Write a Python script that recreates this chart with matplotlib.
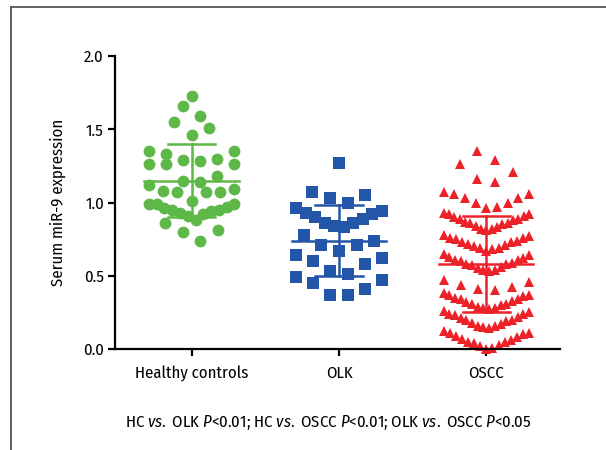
import numpy as np
import matplotlib
matplotlib.use("Agg")
import matplotlib.pyplot as plt
from matplotlib.lines import Line2D

plt.rcParams['font.family'] = ['Fira Sans Condensed', 'DejaVu Sans']
plt.rcParams['mathtext.fontset'] = 'custom'
plt.rcParams['mathtext.rm'] = 'Fira Sans Condensed'
plt.rcParams['mathtext.it'] = 'Fira Sans Condensed:italic'

# data
groups = ["Healthy controls", "OLK", "OSCC"]

hc = [1.73, 1.66, 1.59, 1.55, 1.51, 1.46, 1.35, 1.35, 1.33, 1.30, 1.29, 1.28,
      1.26, 1.26, 1.26, 1.18, 1.15, 1.14, 1.12, 1.09, 1.07, 1.08, 1.07, 1.07,
      1.01, 0.99, 0.97, 0.95, 0.93, 0.91, 0.99, 0.95, 0.94, 0.99, 0.96, 0.92,
      0.88, 0.86, 0.81, 0.80, 0.74]

olk = [1.27, 1.07, 1.05, 1.03, 1.00, 0.96, 0.94, 0.93, 0.92, 0.90, 0.89, 0.86,
       0.86, 0.83, 0.84, 0.78, 0.74, 0.71, 0.71, 0.67, 0.64, 0.62, 0.60, 0.58,
       0.53, 0.51, 0.47, 0.49, 0.45, 0.41, 0.37, 0.37]

oscc = [0.00, 0.01, 0.02, 0.03, 0.04, 0.05, 0.05, 0.06, 0.07, 0.08, 0.09, 0.10,
        0.11, 0.11, 0.12,
        0.14, 0.15, 0.16, 0.16, 0.17, 0.18, 0.19, 0.20, 0.20, 0.21, 0.22, 0.23,
        0.24, 0.24, 0.25, 0.26,
        0.27, 0.28, 0.28, 0.29, 0.30, 0.31, 0.31, 0.32, 0.33, 0.34, 0.34, 0.35,
        0.36, 0.37, 0.37, 0.38,
        0.40, 0.41, 0.42, 0.44, 0.46, 0.47,
        0.53, 0.54, 0.54, 0.55, 0.56, 0.57, 0.58, 0.58, 0.59, 0.60, 0.61, 0.61,
        0.62, 0.63, 0.64, 0.65,
        0.67, 0.68, 0.69, 0.69, 0.70, 0.71, 0.72, 0.73, 0.73, 0.74, 0.75, 0.76,
        0.76, 0.77, 0.78,
        0.81, 0.82, 0.82, 0.83, 0.84, 0.85, 0.86, 0.86, 0.87, 0.88, 0.89, 0.89,
        0.90, 0.91, 0.92, 0.92, 0.93,
        0.96, 0.97, 1.00, 1.00, 1.03, 1.03, 1.06, 1.06, 1.07,
        1.14, 1.16, 1.21, 1.26, 1.29, 1.35]

means = [1.15, 0.74, 0.58]
sds = [0.25, 0.24, 0.33]

colors = ["#5db847", "#2356a8", "#ec2228"]
markers = ["o", "s", "^"]
msizes = [8.5, 8, 7.5]
row_heights = [0.13, 0.14, 0.125]


def swarm(values, row_h=0.13, half=0.29, max_step=0.12):
    # prism-style scatter: bin into rows, lowest value in the middle
    vals = np.sort(np.asarray(values, dtype=float))
    xs = np.zeros(len(vals))
    i = 0
    while i < len(vals):
        j = i
        while j < len(vals) and vals[j] < vals[i] + row_h - 1e-9:
            j += 1
        n = j - i
        step = max_step if n < 2 else min(max_step, 2 * half / (n - 1))
        for k in range(n):
            if n % 2:
                slot = ((k + 1) // 2) * (1 if k % 2 else -1)
            else:
                slot = (k // 2 + 0.5) * (1 if k % 2 == 0 else -1)
            xs[i + k] = slot * step
        i = j
    return xs, vals


fig = plt.figure(figsize=(6.06, 4.5), dpi=100)
ax = fig.add_axes([115 / 606, 1 - 349 / 450, 445 / 606, (349 - 56) / 450])

for gi, data in enumerate([hc, olk, oscc]):
    dx, vals = swarm(data, row_h=row_heights[gi])
    ax.plot(gi + dx, vals, linestyle="none", marker=markers[gi],
            markersize=msizes[gi], color=colors[gi], markeredgewidth=0,
            clip_on=False, zorder=2)
    m, s = means[gi], sds[gi]
    ax.plot([gi - 0.32, gi + 0.32], [m, m], color=colors[gi], lw=1.8, zorder=3)
    ax.plot([gi - 0.16, gi + 0.16], [m + s, m + s], color=colors[gi], lw=1.8, zorder=3)
    ax.plot([gi - 0.16, gi + 0.16], [m - s, m - s], color=colors[gi], lw=1.8, zorder=3)
    ax.plot([gi, gi], [m - s, m + s], color=colors[gi], lw=1.8, zorder=3)

ax.set_xlim(-0.52, 2.5)
ax.set_ylim(0, 2.0)
ax.set_yticks([0.0, 0.5, 1.0, 1.5, 2.0])
ax.set_yticklabels(["0.0", "0.5", "1.0", "1.5", "2.0"])
ax.set_xticks(range(len(groups)))
ax.set_xticklabels(groups)
for side in ["top", "right"]:
    ax.spines[side].set_visible(False)
for side in ["left", "bottom"]:
    ax.spines[side].set_linewidth(1.6)
    ax.spines[side].set_zorder(4)
ax.tick_params(axis="both", direction="out", length=5, width=1.6, labelsize=12,
               colors="black")
ax.tick_params(axis="x", pad=7)
ax.tick_params(axis="y", pad=3)
ax.set_ylabel("Serum miR-9 expression", fontsize=12)
ax.yaxis.set_label_coords(-0.11, 0.5)

fig.text(328 / 606, 1 - 423 / 450,
         r"HC $\it{vs.}$ OLK $\it{P}$<0.01; HC $\it{vs.}$ OSCC $\it{P}$<0.01; "
         r"OLK $\it{vs.}$ OSCC $\it{P}$<0.05",
         ha="center", va="center", fontsize=12)

# outer frame of the panel
fig.add_artist(Line2D([11 / 606, 11 / 606], [0, 1 - 7 / 450], color="#555555", lw=1.3))
fig.add_artist(Line2D([11 / 606, 1], [1 - 7 / 450, 1 - 7 / 450], color="#555555", lw=1.3))

fig.savefig("out.png", dpi=100)
